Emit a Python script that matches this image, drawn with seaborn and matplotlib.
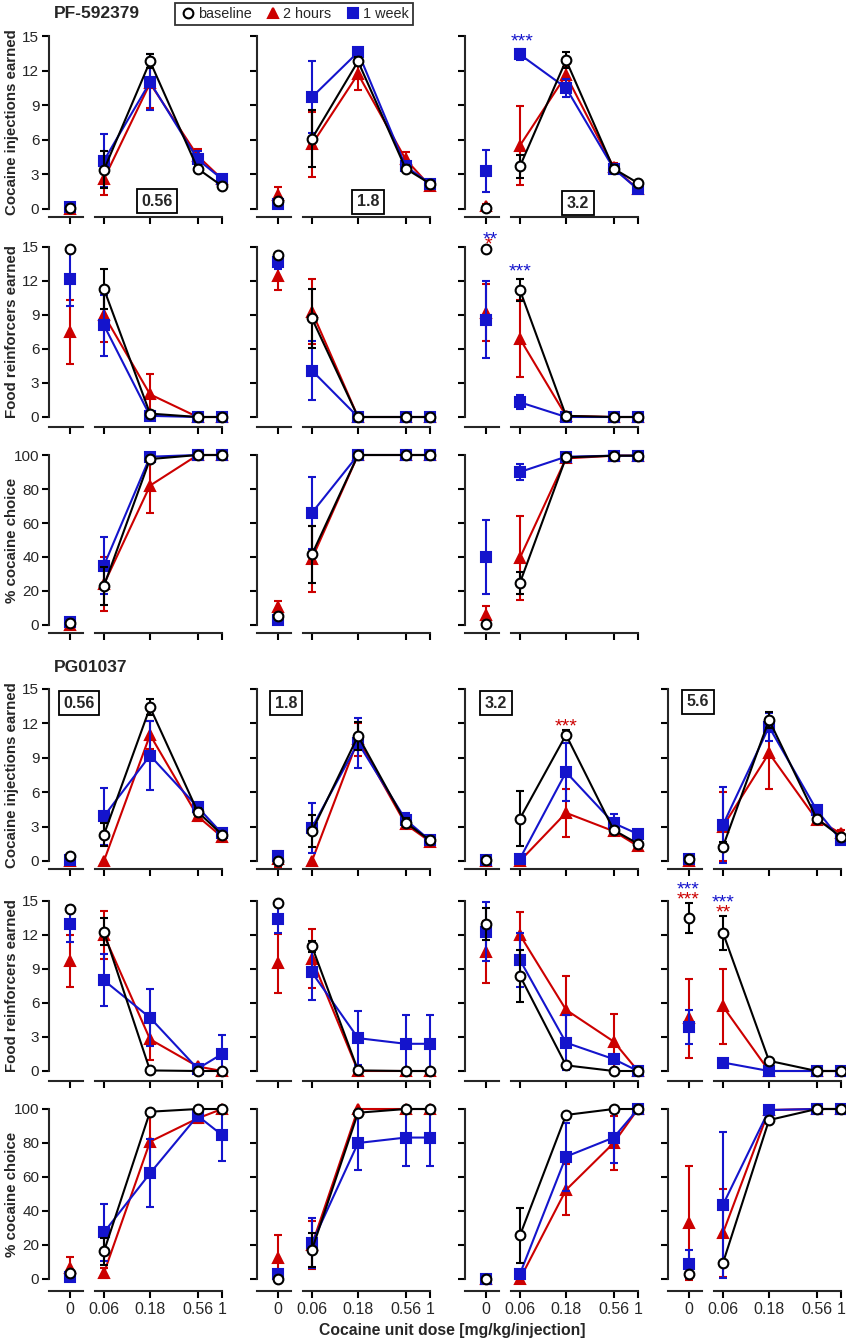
import numpy as np
import pandas as pd
import matplotlib
matplotlib.use('Agg')
import matplotlib.pyplot as plt
from matplotlib.lines import Line2D
from matplotlib.ticker import NullLocator
import seaborn as sns

# ---------------- data ----------------
doses = [0.06, 0.18, 0.56, 1.0]
dose_labels = ['0.06', '0.18', '0.56', '1']
conditions = ['baseline', '2 hours', '1 week']
pf_pretreat = ['0.56', '1.8', '3.2']
pg_pretreat = ['0.56', '1.8', '3.2', '5.6']
# each list: [saline(0), 0.06, 0.18, 0.56, 1]

pf_inj_mean = {
    '0.56': {'baseline': [0.1, 3.4, 12.8, 3.5, 2.0], '2 hours': [0.0, 2.6, 10.9, 4.6, 2.6], '1 week': [0.2, 4.2, 11.0, 4.3, 2.6]},
    '1.8': {'baseline': [0.7, 6.1, 12.8, 3.5, 2.2], '2 hours': [1.2, 5.6, 11.7, 4.3, 2.0], '1 week': [0.4, 9.7, 13.6, 3.7, 2.2]},
    '3.2': {'baseline': [0.1, 3.7, 12.9, 3.5, 2.25], '2 hours': [0.3, 5.5, 11.6, 3.6, 1.7], '1 week': [3.3, 13.4, 10.5, 3.5, 1.7]},
}
pf_inj_sem = {
    '0.56': {'baseline': [0.1, 1.6, 0.6, 0.3, 0.2], '2 hours': [0.2, 1.4, 2.1, 0.6, 0.3], '1 week': [0.2, 2.3, 2.4, 0.7, 0.3]},
    '1.8': {'baseline': [0.2, 2.5, 0.4, 0.3, 0.2], '2 hours': [0.7, 2.8, 1.4, 0.6, 0.3], '1 week': [0.2, 3.1, 0.4, 0.3, 0.3]},
    '3.2': {'baseline': [0.1, 1.0, 0.7, 0.3, 0.2], '2 hours': [0.1, 3.4, 0.7, 0.4, 0.2], '1 week': [1.8, 0.5, 0.8, 0.3, 0.2]},
}
pf_food_mean = {
    '0.56': {'baseline': [14.8, 11.3, 0.3, 0.0, 0.0], '2 hours': [7.5, 9.0, 2.0, 0.0, 0.0], '1 week': [12.2, 8.1, 0.1, 0.0, 0.0]},
    '1.8': {'baseline': [14.3, 8.7, 0.0, 0.0, 0.0], '2 hours': [12.4, 9.3, 0.0, 0.0, 0.0], '1 week': [13.7, 4.1, 0.0, 0.0, 0.0]},
    '3.2': {'baseline': [14.8, 11.2, 0.1, 0.0, 0.0], '2 hours': [9.2, 6.9, 0.1, 0.0, 0.0], '1 week': [8.6, 1.3, 0.0, 0.0, 0.0]},
}
pf_food_sem = {
    '0.56': {'baseline': [0.1, 1.8, 0.1, 0, 0], '2 hours': [2.8, 2.4, 1.8, 0, 0], '1 week': [2.4, 2.7, 0.1, 0, 0]},
    '1.8': {'baseline': [0.2, 2.6, 0, 0, 0], '2 hours': [1.2, 2.9, 0, 0, 0], '1 week': [0.6, 2.6, 0, 0, 0]},
    '3.2': {'baseline': [0.1, 1.0, 0.1, 0, 0], '2 hours': [2.5, 3.4, 0.1, 0, 0], '1 week': [3.4, 0.6, 0, 0, 0]},
}
pf_choice_mean = {
    '0.56': {'baseline': [1.0, 23.0, 97.6, 100, 100], '2 hours': [0.0, 24.0, 82.0, 100, 100], '1 week': [1.5, 35.0, 99.0, 100, 100]},
    '1.8': {'baseline': [5.5, 41.5, 100, 100, 100], '2 hours': [10.5, 39.0, 100, 100, 100], '1 week': [3.0, 66.0, 100, 100, 100]},
    '3.2': {'baseline': [0.6, 24.8, 98.6, 99.6, 99.6], '2 hours': [6.0, 39.5, 98.0, 99.6, 99.6], '1 week': [40.0, 90.0, 99.0, 99.6, 99.6]},
}
pf_choice_sem = {
    '0.56': {'baseline': [0.5, 11, 1, 0, 0], '2 hours': [0.5, 16, 16, 0, 0], '1 week': [0.5, 17, 1, 0, 0]},
    '1.8': {'baseline': [1, 16.5, 0, 0, 0], '2 hours': [3.6, 19.5, 0, 0, 0], '1 week': [1, 21, 0, 0, 0]},
    '3.2': {'baseline': [0.3, 6.5, 0.5, 0, 0], '2 hours': [5, 24.5, 0.5, 0, 0], '1 week': [22, 4.5, 0.5, 0, 0]},
}
pg_inj_mean = {
    '0.56': {'baseline': [0.45, 2.3, 13.4, 4.3, 2.3], '2 hours': [0.0, 0.0, 11.0, 3.9, 2.1], '1 week': [0.1, 3.9, 9.2, 4.7, 2.4]},
    '1.8': {'baseline': [0.0, 2.6, 10.9, 3.35, 1.8], '2 hours': [0.2, 0.0, 10.6, 3.2, 1.7], '1 week': [0.4, 2.9, 10.3, 3.6, 1.8]},
    '3.2': {'baseline': [0.1, 3.7, 11.0, 2.7, 1.5], '2 hours': [0.0, 0.0, 4.2, 2.6, 1.3], '1 week': [0.1, 0.2, 7.75, 3.3, 2.35]},
    '5.6': {'baseline': [0.15, 1.25, 12.3, 3.7, 2.1], '2 hours': [0.0, 3.0, 9.4, 3.6, 2.4], '1 week': [0.15, 3.15, 11.7, 4.45, 1.8]},
}
pg_inj_sem = {
    '0.56': {'baseline': [0.1, 1.0, 0.7, 0.3, 0.2], '2 hours': [0.1, 0, 1.2, 0.4, 0.3], '1 week': [0.1, 2.5, 3.0, 0.3, 0.4]},
    '1.8': {'baseline': [0.05, 1.4, 1.2, 0.4, 0.2], '2 hours': [0.7, 0, 1.4, 0.3, 0.2], '1 week': [0.1, 2.2, 2.2, 0.6, 0.2]},
    '3.2': {'baseline': [0.1, 2.4, 0.4, 0.3, 0.2], '2 hours': [0.1, 0, 2.1, 0.3, 0.2], '1 week': [0.1, 0.2, 2.5, 0.8, 0.3]},
    '5.6': {'baseline': [0.1, 0.4, 0.7, 0.3, 0.2], '2 hours': [0.1, 3.0, 3.1, 0.3, 0.3], '1 week': [0.1, 3.3, 1.2, 0.3, 0.2]},
}
pg_food_mean = {
    '0.56': {'baseline': [14.3, 12.3, 0.05, 0.0, 0.0], '2 hours': [9.7, 12.0, 2.8, 0.4, 0.0], '1 week': [13.0, 8.0, 4.7, 0.2, 1.5]},
    '1.8': {'baseline': [14.85, 11.0, 0.05, 0.0, 0.0], '2 hours': [9.5, 9.9, 0.0, 0.0, 0.0], '1 week': [13.4, 8.7, 2.9, 2.4, 2.4]},
    '3.2': {'baseline': [12.95, 8.4, 0.5, 0.0, 0.0], '2 hours': [10.5, 12.0, 5.4, 2.6, 0.0], '1 week': [12.3, 9.8, 2.5, 1.05, 0.0]},
    '5.6': {'baseline': [13.5, 12.2, 0.9, 0.0, 0.0], '2 hours': [4.65, 5.7, 0.0, 0.0, 0.0], '1 week': [3.9, 0.75, 0.0, 0.0, 0.0]},
}
pg_food_sem = {
    '0.56': {'baseline': [0.3, 1.2, 0.1, 0.1, 0.1], '2 hours': [2.3, 2.1, 1.8, 0.2, 0.1], '1 week': [1.6, 2.3, 2.5, 0.2, 1.7]},
    '1.8': {'baseline': [0.1, 0.5, 0.1, 0, 0], '2 hours': [2.6, 2.6, 0.1, 0.1, 0.1], '1 week': [1.2, 2.4, 2.4, 2.5, 2.5]},
    '3.2': {'baseline': [1.4, 2.3, 0.2, 0, 0], '2 hours': [2.7, 2.0, 3.0, 2.4, 0], '1 week': [2.6, 2.4, 2.4, 0.3, 0]},
    '5.6': {'baseline': [1.35, 1.5, 0.2, 0, 0], '2 hours': [3.5, 3.3, 0, 0, 0], '1 week': [1.5, 0.2, 0, 0, 0]},
}
pg_choice_mean = {
    '0.56': {'baseline': [3.5, 16.2, 98.4, 100, 100], '2 hours': [6.5, 3.5, 80.8, 94.5, 100], '1 week': [1.0, 27.4, 62.2, 96.0, 84.7]},
    '1.8': {'baseline': [0.0, 17.2, 97.8, 100, 100], '2 hours': [12.3, 20.0, 100, 100, 100], '1 week': [3.0, 21.0, 80.0, 83.2, 83.2]},
    '3.2': {'baseline': [0.0, 25.6, 96.5, 100, 100], '2 hours': [0.0, 0.0, 52.4, 80.0, 100], '1 week': [0.0, 3.0, 72.0, 83.2, 100]},
    '5.6': {'baseline': [3.0, 9.4, 93.5, 100, 100], '2 hours': [32.9, 27.0, 99.4, 100, 100], '1 week': [8.8, 43.6, 99.4, 100, 100]},
}
pg_choice_sem = {
    '0.56': {'baseline': [1, 8, 1, 0, 0], '2 hours': [6.5, 3, 18, 3, 2], '1 week': [1, 16.6, 20, 3, 15]},
    '1.8': {'baseline': [0.5, 10, 1, 0, 0], '2 hours': [13.3, 14, 0, 0, 0], '1 week': [1, 14.8, 16, 16.5, 16.5]},
    '3.2': {'baseline': [0.3, 16.4, 1, 0, 0], '2 hours': [0.3, 0.5, 15, 16, 0], '1 week': [0.3, 1, 20, 15, 0]},
    '5.6': {'baseline': [0.5, 1, 1, 0, 0], '2 hours': [33.6, 26, 0.5, 0, 0], '1 week': [8, 43, 0.5, 0, 0]},
}

# ---------------- style ----------------
sns.set_theme(style='ticks')
plt.rcParams['font.family'] = ['Liberation Sans', 'DejaVu Sans']
plt.rcParams['axes.linewidth'] = 1.5

colors = {'baseline': 'black', '2 hours': '#CC0000', '1 week': '#1414CC'}
markers = {'baseline': 'o', '2 hours': '^', '1 week': 's'}
msizes = {'baseline': 7, '2 hours': 7.5, '1 week': 6.5}
mfaces = {'baseline': 'white', '2 hours': '#CC0000', '1 week': '#1414CC'}
draw_order = ['2 hours', '1 week', 'baseline']

W, H = 846, 1341
fig = plt.figure(figsize=(W / 100, H / 100), dpi=100)


def fx(px):
    return px / W


def fy(py):
    return 1 - py / H


# pixel geometry: (data top, data zero, x-axis line)
rows = [(36, 209, 217), (247, 417, 427), (455, 625, 633),
        (689, 861, 869), (901, 1071, 1081), (1109, 1279, 1291)]
spine_x = [49, 257, 465, 668]


def draw_panel(r, c, means, sems, ymax, yticks, ylabels_on, xlabels_on):
    top, zero, axis = rows[r]
    sx = spine_x[c]
    lo = -ymax * (axis - zero) / (zero - top)
    axz = fig.add_axes([fx(sx), fy(axis), 34 / W, (axis - top) / H])
    axd = fig.add_axes([fx(sx + 46), fy(axis), 127 / W, (axis - top) / H])
    for ax in (axz, axd):
        ax.set_facecolor('none')
        ax.set_ylim(lo, ymax)
        for s in ('top', 'right'):
            ax.spines[s].set_visible(False)
        ax.spines['bottom'].set_linewidth(1.5)
        ax.spines['left'].set_linewidth(1.5)
        ax.tick_params(direction='out', length=5, width=1.5, pad=2, color='black')
        ax.tick_params(axis='y', labelsize=11)
        ax.tick_params(axis='x', labelsize=11.5, pad=3)
    axz.set_xlim(-0.618, 0.382)
    axz.spines['left'].set_bounds(0, ymax)
    axz.set_yticks(yticks)
    if ylabels_on:
        axz.set_yticklabels([str(t) for t in yticks])
    else:
        axz.set_yticklabels([])
    axz.set_xticks([0])
    axz.set_xticklabels(['0'] if xlabels_on else [''])

    axd.set_xscale('log')
    axd.set_xlim(0.0485, 1.0)
    axd.spines['left'].set_visible(False)
    axd.tick_params(axis='y', left=False, labelleft=False)
    axd.set_xticks(doses)
    axd.xaxis.set_minor_locator(NullLocator())
    axd.set_xticklabels(dose_labels if xlabels_on else [''] * 4)

    for i, cond in enumerate(draw_order):
        z = 3 + i
        m = means[cond]
        e = sems[cond]
        col = colors[cond]
        # saline point
        axz.errorbar([0], [m[0]], yerr=[e[0]] if e[0] > 0 else None, fmt=markers[cond],
                     color=col, mfc=mfaces[cond], mec=col, ms=msizes[cond], mew=1.5,
                     ecolor=col, elinewidth=1.5, capsize=3, capthick=1.5,
                     clip_on=False, zorder=z)
        # dose-response error bars
        xs = [d for d, s in zip(doses, e[1:]) if s > 0]
        ys = [v for v, s in zip(m[1:], e[1:]) if s > 0]
        es = [s for s in e[1:] if s > 0]
        if xs:
            axd.errorbar(xs, ys, yerr=es, fmt='none', ecolor=col, elinewidth=1.5,
                         capsize=3, capthick=1.5, clip_on=False, zorder=z)
        sns.lineplot(x=doses, y=m[1:], ax=axd, color=col, marker=markers[cond],
                     markersize=msizes[cond], markerfacecolor=mfaces[cond],
                     markeredgecolor=col, markeredgewidth=1.5, linewidth=1.5,
                     errorbar=None, legend=False, clip_on=False, zorder=z + 0.5)
    axd.set_xlabel('')
    axd.set_ylabel('')
    axz.set_xlabel('')
    axz.set_ylabel('')
    return axz, axd


count_ticks = [0, 3, 6, 9, 12, 15]
pct_ticks = [0, 20, 40, 60, 80, 100]

# PF-592379 (rows 0-2, cols 0-2)
for c, p in enumerate(pf_pretreat):
    draw_panel(0, c, pf_inj_mean[p], pf_inj_sem[p], 15, count_ticks, c == 0, False)
    draw_panel(1, c, pf_food_mean[p], pf_food_sem[p], 15, count_ticks, c == 0, False)
    draw_panel(2, c, pf_choice_mean[p], pf_choice_sem[p], 100, pct_ticks, c == 0, False)

# PG01037 (rows 3-5, cols 0-3)
for c, p in enumerate(pg_pretreat):
    draw_panel(3, c, pg_inj_mean[p], pg_inj_sem[p], 15, count_ticks, c == 0, False)
    draw_panel(4, c, pg_food_mean[p], pg_food_sem[p], 15, count_ticks, c == 0, False)
    draw_panel(5, c, pg_choice_mean[p], pg_choice_sem[p], 100, pct_ticks, c == 0, True)

# y labels
ylabels = ['Cocaine injections earned', 'Food reinforcers earned', '% cocaine choice'] * 2
for (top, zero, axis), lab in zip(rows, ylabels):
    fig.text(fx(12), fy((top + zero) / 2), lab, rotation=90, ha='center', va='center',
             fontsize=10.8, fontweight='bold')

fig.text(fx(452), fy(1330), 'Cocaine unit dose [mg/kg/injection]', ha='center', va='center',
         fontsize=11.3, fontweight='bold')

# section titles
fig.text(fx(54), fy(14), 'PF-592379', ha='left', va='center', fontsize=12.5, fontweight='bold')
fig.text(fx(54), fy(667), 'PG01037', ha='left', va='center', fontsize=12.5, fontweight='bold')

# pretreatment dose boxes
box = dict(boxstyle='square,pad=0.28', fc='white', ec='black', lw=1.3)
for (px, py), lab in zip([(157, 201), (368, 202), (578, 203)], pf_pretreat):
    fig.text(fx(px), fy(py), lab, ha='center', va='center', fontsize=11.5, fontweight='bold', bbox=box)
for (px, py), lab in zip([(79, 703), (286, 703), (496, 703), (698, 702)], pg_pretreat):
    fig.text(fx(px), fy(py), lab, ha='center', va='center', fontsize=11.5, fontweight='bold', bbox=box)

# significance asterisks (center px of the star glyphs)
stars = [
    (522, 37, '***', colors['1 week']),
    (488, 240, '*', colors['2 hours']),
    (490, 235, '**', colors['1 week']),
    (520, 267, '***', colors['1 week']),
    (566, 722, '***', colors['2 hours']),
    (688, 885, '***', colors['1 week']),
    (688, 895, '***', colors['2 hours']),
    (723, 898, '***', colors['1 week']),
    (723, 908, '**', colors['2 hours']),
]
for px, py, s, col in stars:
    fig.text(fx(px), fy(py + 5), s, ha='center', va='center', fontsize=14, color=col)

# legend
handles = [Line2D([], [], ls='none', marker=markers[c], color=colors[c], mfc=mfaces[c],
                  mec=colors[c], ms=msizes[c], mew=1.5) for c in conditions]
leg = fig.legend(handles, conditions, loc='center', bbox_to_anchor=(fx(294), fy(14)), ncol=3,
                 frameon=True, fancybox=False, edgecolor='black', fontsize=10.4,
                 handletextpad=0.1, columnspacing=0.9, borderpad=0.3, handlelength=1.2)
leg.get_frame().set_linewidth(1.3)

fig.savefig('out.png', dpi=100)
